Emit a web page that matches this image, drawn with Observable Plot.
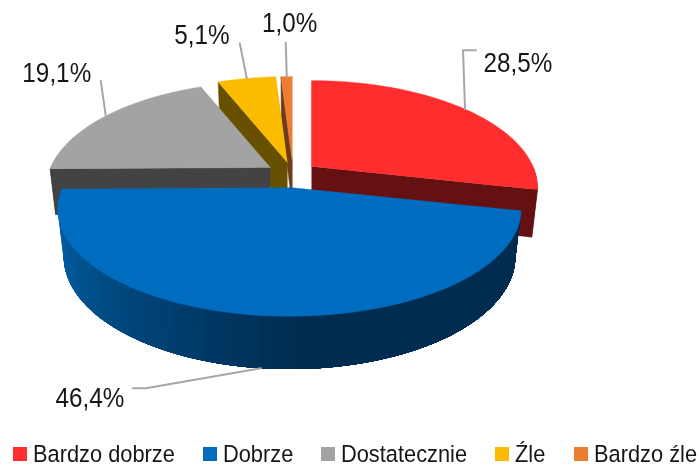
<!DOCTYPE html>
<html lang="pl">
<head>
<meta charset="utf-8">
<script src="https://cdn.jsdelivr.net/npm/d3@7"></script>
<script src="https://cdn.jsdelivr.net/npm/@observablehq/plot@0.6"></script>
<style>
html,body{margin:0;padding:0;background:#fff;overflow:hidden}
#chart,#legend{filter:blur(.35px)}
#legend{display:flex;gap:28px;padding:8px 0 0 13px;height:27px;box-sizing:content-box;align-items:center;
  font:24.5px "Liberation Sans",Arial,sans-serif;color:#161616;white-space:nowrap}
#legend span.i{display:flex;align-items:center;gap:6px}
#legend i{display:block;width:14px;height:14px}
#legend b{display:inline-block;font-weight:normal;transform:scaleX(.89);transform-origin:0 50%}
</style>
</head>
<body>
<div id="chart"></div>
<div id="legend"></div>
<script>
// Data
const categories = ["Bardzo dobrze", "Dobrze", "Dostatecznie", "Źle", "Bardzo źle"];
const values = [28.5, 46.4, 19.1, 5.1, 1.0];
const labels = ["28,5%", "46,4%", "19,1%", "5,1%", "1,0%"];
const colors = ["#ff2d2d", "#006cbf", "#a3a3a3", "#fbbc00", "#ed7d31"];
const sideColors = ["#651111", "#002c50", "#434343", "#675000", "#6b3d1a"];

// Layout of the exploded, perspective pie
const centreX = [311, 289, 270, 287, 292];
const centreY = [166, 187, 167, 162, 162];
const radiusX = [221.5, 227, 220, 220, 220];
const radiusY = 103, tilt = 0.2, depth = 46, depthTilt = 0.13, shrink = 0.975;
// Leader paths (offsets from the rim point) and label centres (offsets too)
const leaderBends = [[[-2, -59], [11, -59]], [[-115, 20], [-128, 20]], [[-5, -35]], [[-7, -35]], [[-1, -34]]];
const labelOffsets = [[53, -46], [-171, 30], [-49, -43], [-45, -43], [3, -53]];
const drawOrder = [4, 3, 2, 0, 1];

const total = d3.sum(values);
const ends = Array.from(d3.cumsum(values), v => v / total * 2 * Math.PI);
const starts = ends.map((_, i) => (i ? ends[i - 1] : 0));

function topPoint(i, a) {
  const u = Math.sin(a), v = Math.cos(a), w = 1 + tilt * v;
  return [centreX[i] + radiusX[i] * u / w, centreY[i] - radiusY * v / w];
}
function bottomPoint(i, a) {
  const [x, y] = topPoint(i, a), v = Math.cos(a);
  return [centreX[i] + (x - centreX[i]) * shrink, y + depth / (1 + depthTilt * v)];
}
const arcAngles = (a0, a1, n) => d3.range(n + 1).map(k => a0 + (a1 - a0) * k / n);

const polys = [];
let polyId = 0;
function addPoly(points, colour, edge = colour) {
  polyId++;
  for (const [x, y] of points) polys.push({x, y, id: polyId, colour, edge});
}
const blueRamp = d3.interpolateRgb("#0068b4", "#002c50");
for (const i of drawOrder) {
  const a0 = starts[i], a1 = ends[i];
  const apexTop = [centreX[i], centreY[i]], apexBot = [centreX[i], centreY[i] + depth];
  // radial faces turned to the viewer
  if (i === 0) addPoly([apexTop, topPoint(i, a1), bottomPoint(i, a1), apexBot], sideColors[i]);
  if (i >= 2) addPoly([apexTop, topPoint(i, a0), bottomPoint(i, a0), apexBot], sideColors[i]);
  // outer wall (front half only); gradient bands each run on to the wall's far end, so no seams
  const w0 = Math.max(a0, Math.PI / 2), w1 = Math.min(a1, 1.5 * Math.PI);
  if (w1 > w0) {
    const bands = i === 1 ? 70 : 1;
    const steps = arcAngles(w1, w0, bands);
    for (let k = 0; k < bands; k++) {
      const from = steps[k];
      const t = Math.min(1, (w1 - from) / (Math.PI * 0.5));
      const c = i === 1 ? d3.color(blueRamp(t)).formatHex() : sideColors[i];
      const arc = arcAngles(from, w0, 60);
      addPoly([...arc.map(a => topPoint(i, a)), ...arc.reverse().map(a => bottomPoint(i, a))], c, "none");
    }
  }
  // top face
  addPoly([apexTop, ...arcAngles(a0, a1, 120).map(a => topPoint(i, a))], colors[i]);
}

// Leaders start on the rim at each slice's mid angle
const rim = values.map((_, i) => {
  const m = (starts[i] + ends[i]) / 2;
  return i === 1 ? bottomPoint(i, m) : topPoint(i, m);
});
const leaders = rim.flatMap((p, i) =>
  [p, ...leaderBends[i].map(o => [p[0] + o[0], p[1] + o[1]])].map(([x, y]) => ({x, y, i})));
const labelData = labels.map((label, i) => ({
  label, x: rim[i][0] + labelOffsets[i][0], y: rim[i][1] + labelOffsets[i][1]
}));

const W = 699, H = 432;
const svg = Plot.plot({
  width: W, height: H,
  margin: 0,
  x: {domain: [0, W], range: [0, W], axis: null},
  y: {domain: [0, H], range: [0, H], axis: null},
  color: {type: "identity"},
  style: {fontFamily: '"Liberation Sans",Arial,sans-serif', background: "#fff", display: "block"},
  marks: [
    Plot.line(polys, {x: "x", y: "y", z: "id", fill: "colour", stroke: "edge", strokeWidth: 0.5}),
    Plot.line(leaders, {x: "x", y: "y", z: "i", stroke: "#a6a6a6", strokeWidth: 2}),
    Plot.text(labelData, {x: "x", y: "y", text: "label", fontSize: 27, fill: "#161616", textAnchor: "middle", lineAnchor: "middle"})
  ]
});
document.getElementById("chart").append(svg);
// The reference's labels are slightly condensed
svg.querySelectorAll("text").forEach(t => {
  t.setAttribute("transform", (t.getAttribute("transform") || "") + " scale(.9,1)");
});

const legend = document.getElementById("legend");
categories.forEach((c, i) => {
  const s = document.createElement("span");
  s.className = "i";
  const box = document.createElement("i");
  box.style.background = colors[i];
  const txt = document.createElement("b");
  txt.textContent = c;
  s.append(box, txt);
  legend.append(s);
  // condensed text: give back the width the scale removes
  txt.style.marginRight = (-0.11 * txt.offsetWidth) + "px";
});
</script>
</body>
</html>
